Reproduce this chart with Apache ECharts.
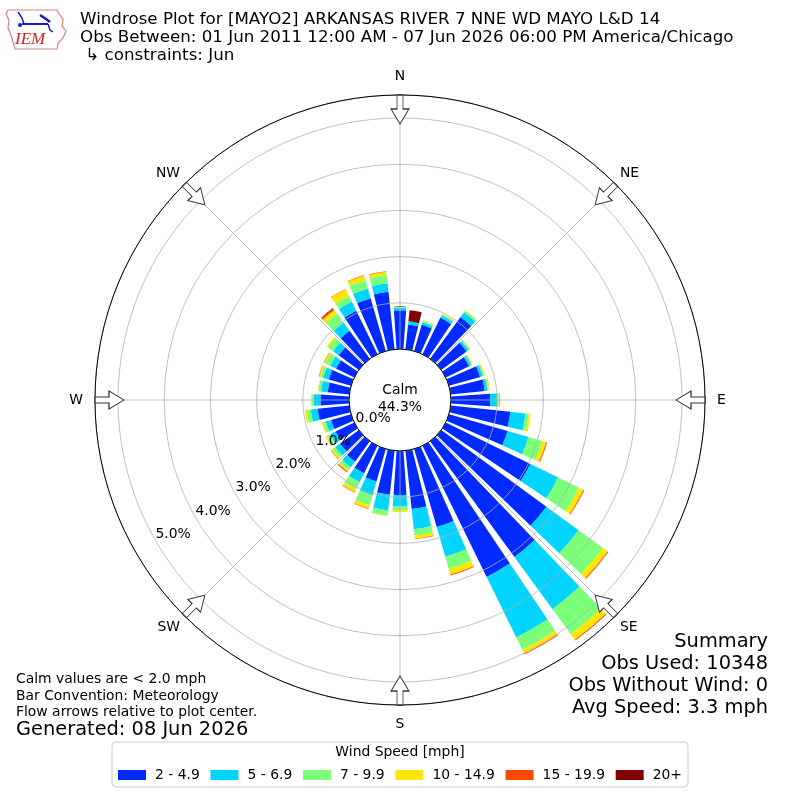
<!DOCTYPE html>
<html>
<head>
<meta charset="utf-8">
<script src="https://cdn.jsdelivr.net/npm/echarts@6/dist/echarts.min.js"></script>
<style>html,body{margin:0;padding:0;background:#fff}#c{width:800px;height:800px}</style>
</head>
<body>
<div id="c"></div>
<script>
// ---------- data ----------
const directions = ['0','10','20','30','40','50','60','70','80','90','100','110','120','130','140','150','160','170',
                    '180','190','200','210','220','230','240','250','260','270','280','290','300','310','320','330','340','350'];
const speedBins = ['2 - 4.9', '5 - 6.9', '7 - 9.9', '10 - 14.9', '15 - 19.9', '20+'];
// percent of observations, per direction (0..350 step 10)
const speed_2_5   = [0.84,0.54,0.59,0.88,1.12,0.68,0.56,0.70,0.74,0.85,1.30,1.32,2.04,2.82,3.10,3.16,1.76,1.27,
                     0.95,0.96,0.73,0.66,0.55,0.50,0.45,0.45,0.69,0.62,0.47,0.50,0.44,0.54,0.75,1.05,1.19,1.25];
const speed_5_7   = [0.06,0.07,0.06,0.06,0.13,0.06,0.05,0.06,0.06,0.15,0.33,0.47,0.67,0.86,1.40,1.46,0.67,0.44,
                     0.25,0.34,0.31,0.22,0.15,0.13,0.13,0.12,0.15,0.145,0.145,0.13,0.14,0.15,0.22,0.22,0.22,0.19];
const speed_7_10  = [0.03,0,0.03,0.03,0.04,0.03,0.03,0.03,0.03,0.035,0.07,0.31,0.50,0.65,0.67,0.30,0.27,0.14,
                     0.08,0.11,0.23,0.17,0.08,0.07,0.08,0.06,0.09,0.035,0.06,0.06,0.11,0.13,0.24,0.14,0.19,0.18];
const speed_10_15 = [0,0,0.015,0.01,0.01,0.01,0.01,0.02,0.02,0.02,0.04,0.09,0.11,0.13,0.15,0.09,0.13,0.07,
                     0.04,0.01,0.07,0.07,0.04,0.04,0.03,0.03,0.04,0.02,0.01,0.03,0.04,0.04,0.10,0.16,0.10,0.07];
const speed_15_20 = [0,0,0,0,0,0,0,0,0,0.01,0,0.02,0.02,0.02,0.02,0.02,0.02,0.01,
                     0,0,0.01,0.01,0.02,0.01,0,0,0,0,0,0.01,0.01,0,0.04,0.01,0.01,0.01];
const speed_20p   = [0,0.24,0,0,0,0,0,0,0,0,0,0,0,0,0,0,0,0,
                     0,0,0,0,0,0,0,0,0,0,0,0,0,0,0.01,0,0,0];
const binData = [speed_2_5, speed_5_7, speed_7_10, speed_10_15, speed_15_20, speed_20p];
const radialTicks = [0, 1, 2, 3, 4, 5];
const compassNames = ['N','NE','E','SE','S','SW','W','NW'];
const compassAngles = [0,45,90,135,180,225,270,315];
const calmText = 'Calm\n44.3%';
const titleText = 'Windrose Plot for [MAYO2] ARKANSAS RIVER 7 NNE WD MAYO L&D 14\nObs Between: 01 Jun 2011 12:00 AM - 07 Jun 2026 06:00 PM America/Chicago\n \u21b3 constraints: Jun';
const summaryText = 'Summary\nObs Used: 10348\nObs Without Wind: 0\nAvg Speed: 3.3 mph';
const notesText = 'Calm values are < 2.0 mph\nBar Convention: Meteorology\nFlow arrows relative to plot center.';
const generatedText = 'Generated: 08 Jun 2026';

// ---------- layout / style ----------
const colors = ['#002aff', '#00d4ff', '#7cff79', '#ffe600', '#ff4800', '#800000'];
const FONT = 'DejaVu Sans';
const FS = 13.9;
const CALM_R = 51, PX_PER_PCT = 46.2, OUTER_R = 305;
const rMin = -CALM_R / PX_PER_PCT;
const rMax = (OUTER_R - CALM_R) / PX_PER_PCT;
const ARROW_R = (290.5 - CALM_R) / PX_PER_PCT;
const GRID = '#b0b0b0';

function compassName(v) { return compassNames[Math.round(v / 45) % 8]; }

const chart = echarts.init(document.getElementById('c'), null, {renderer: 'canvas'});

const barSeries = speedBins.map((name, i) => ({
  type: 'bar', name: name, coordinateSystem: 'polar', polarIndex: 0,
  stack: 'wind', data: binData[i], barCategoryGap: '22%',
  itemStyle: {color: colors[i]}, silent: true, z: 2
}));

const option = {
  animation: false,
  backgroundColor: '#fff',
  textStyle: {fontFamily: FONT},
  polar: [
    {center: ['50%', '50%'], radius: [0, OUTER_R]},
    {center: ['50%', '50%'], radius: [CALM_R, OUTER_R]},
    {center: ['50%', '50%'], radius: [CALM_R, OUTER_R]},
    {center: [400, 403], radius: [31, 31 + 5 * PX_PER_PCT]}
  ],
  angleAxis: [
    {polarIndex: 0, type: 'category', data: directions, startAngle: 95, clockwise: true, boundaryGap: true, show: false},
    {polarIndex: 1, type: 'value', min: 0, max: 360, interval: 45, startAngle: 90, clockwise: true, z: 5,
     axisLine: {show: true, lineStyle: {color: '#000', width: 1}},
     axisTick: {show: false},
     splitLine: {show: true, lineStyle: {color: GRID, width: 0.8}},
     axisLabel: {show: true, margin: 12, color: '#000', fontSize: FS, fontFamily: FONT,
                 formatter: v => (v % 90 === 0 && v < 360) ? compassName(v) : ''}},
    {polarIndex: 2, type: 'value', min: 0, max: 360, interval: 45, startAngle: 90, clockwise: true, z: 5,
     axisLine: {show: false}, axisTick: {show: false}, splitLine: {show: false},
     axisLabel: {show: true, margin: 6, color: '#000', fontSize: FS, fontFamily: FONT,
                 formatter: v => (v % 90 !== 0 && v < 360) ? compassName(v) : ''}},
    {polarIndex: 3, type: 'value', min: 0, max: 360, startAngle: 210, clockwise: true, show: false}
  ],
  radiusAxis: [
    {polarIndex: 0, type: 'value', min: rMin, max: rMax, show: false},
    {polarIndex: 1, type: 'value', min: 0, max: rMax, interval: 1, z: 4,
     axisLine: {show: false}, axisTick: {show: false}, axisLabel: {show: false},
     splitLine: {show: true, lineStyle: {color: GRID, width: 0.8}}},
    {polarIndex: 2, type: 'value', min: 0, max: 1, show: false},
    {polarIndex: 3, type: 'value', min: radialTicks[0], max: radialTicks[radialTicks.length - 1], interval: 1, z: 8,
     axisLine: {show: false}, axisTick: {show: false}, splitLine: {show: false},
     axisLabel: {show: true, margin: 0, align: 'center', verticalAlign: 'middle', color: '#000',
                 fontSize: FS, fontFamily: FONT, formatter: v => v.toFixed(1) + '%'}}
  ],
  legend: {
    data: speedBins, left: 'center', top: 742, orient: 'horizontal',
    icon: 'rect', itemWidth: 28, itemHeight: 10, itemGap: 10.7,
    padding: [26, 6, 5, 6], borderColor: '#cccccc', borderWidth: 1, borderRadius: 4,
    textStyle: {fontSize: FS, color: '#000', fontFamily: FONT, padding: [0, 0, 0, 4]},
    selectedMode: false
  },
  title: [
    {text: titleText, left: 80, top: 11, padding: 0,
     textStyle: {fontSize: 16.7, fontWeight: 'normal', color: '#000', lineHeight: 17.7, fontFamily: FONT}},
    {text: calmText, left: 'center', top: 382, padding: 0,
     textStyle: {fontSize: FS, fontWeight: 'normal', color: '#000', lineHeight: 17, fontFamily: FONT}},
    {text: notesText, left: 16, top: 671.5, padding: 0,
     textStyle: {fontSize: FS, fontWeight: 'normal', color: '#000', lineHeight: 16.4, fontFamily: FONT}},
    {text: generatedText, left: 16, top: 719, padding: 0,
     textStyle: {fontSize: 19.4, fontWeight: 'normal', color: '#000', lineHeight: 22, fontFamily: FONT}},
    {text: 'Wind Speed [mph]', left: 'center', top: 744, padding: 0,
     textStyle: {fontSize: FS, fontWeight: 'normal', color: '#000', lineHeight: 16, fontFamily: FONT}}
  ],
  graphic: [
    {type: 'text', silent: true, x: 768, y: 631,
     style: {text: summaryText, align: 'right', verticalAlign: 'top', fill: '#000',
             font: '19.4px "DejaVu Sans"', lineHeight: 22}},
    {type: 'polygon', silent: true,
     shape: {points: [[8,10],[57,10],[59,14],[63,19],[62,26],[66,31],[63,38],[58,43],[57,49],[15,49],[13,42],[11,35],[8,28],[9,20],[6,14]]},
     style: {fill: 'none', stroke: '#d98080', lineWidth: 1.2}},
    {type: 'polyline', silent: true, shape: {points: [[22,24],[48,24]]}, style: {stroke: '#1a1acc', lineWidth: 2}},
    {type: 'polyline', silent: true, shape: {points: [[18,12],[22,18],[24,24]]}, style: {stroke: '#1a1acc', lineWidth: 1.5}},
    {type: 'polyline', silent: true, shape: {points: [[40,15],[46,19],[50,22]]}, style: {stroke: '#1a1acc', lineWidth: 2.5}},
    {type: 'polyline', silent: true, shape: {points: [[48,24],[50,30],[53,32]]}, style: {stroke: '#1a1acc', lineWidth: 1.5}},
    {type: 'circle', silent: true, shape: {cx: 20, cy: 25, r: 2}, style: {fill: '#1a1acc'}},
    {type: 'text', silent: true, x: 15, y: 31,
     style: {text: 'IEM', fill: '#cc2222', font: 'italic 17px "Liberation Serif", serif'}}
  ],
  series: barSeries.concat([
    {type: 'scatter', coordinateSystem: 'polar', polarIndex: 1, silent: true, z: 10,
     data: compassAngles.map(a => [ARROW_R, a]),
     symbol: 'path://M6,0 L12,0 L12,14 L18,14 L9,29 L0,14 L6,14 Z',
     symbolSize: [18, 29], symbolRotate: v => -v[1],
     itemStyle: {color: '#ffffff', borderColor: '#333333', borderWidth: 1, opacity: 1}}
  ])
};
chart.setOption(option);
</script>
</body>
</html>
